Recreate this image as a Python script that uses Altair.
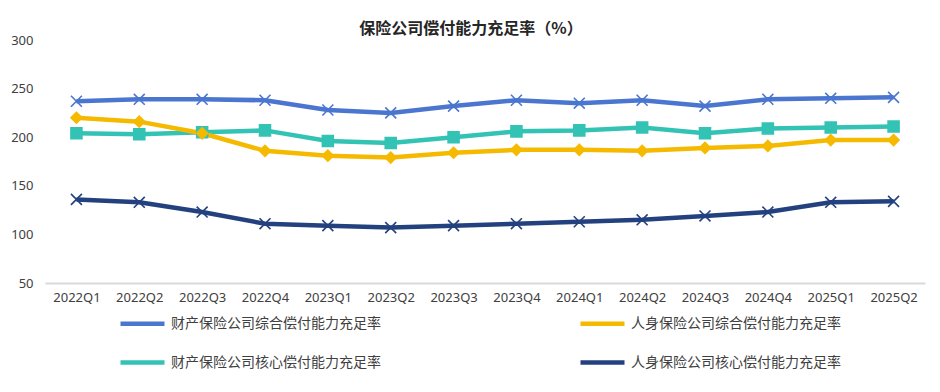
import altair as alt
import pandas as pd

quarters = ["2022Q1", "2022Q2", "2022Q3", "2022Q4", "2023Q1", "2023Q2", "2023Q3",
            "2023Q4", "2024Q1", "2024Q2", "2024Q3", "2024Q4", "2025Q1", "2025Q2"]

# legend order (laid out column by column)
series_names = ["财产保险公司综合偿付能力充足率", "财产保险公司核心偿付能力充足率",
                "人身保险公司综合偿付能力充足率", "人身保险公司核心偿付能力充足率"]
marker_keys = ["m1", "m2", "m3", "m4"]

prop_comp = [237, 239, 239, 238, 228, 225, 232, 238, 235, 238, 232, 239, 240, 241]
prop_core = [204, 203, 205, 207, 196, 194, 200, 206, 207, 210, 204, 209, 210, 211]
life_comp = [220, 216, 204, 186, 181, 179, 184, 187, 187, 186, 189, 191, 197, 197]
life_core = [136, 133, 123, 111, 109, 107, 109, 111, 113, 115, 119, 123, 133, 134]

colors = ["#4A76CF", "#33C3B5", "#F5BA00", "#24417F"]
X_PATH = "M-1,-1L1,1M-1,1L1,-1"
shapes = [X_PATH, "square", "diamond", X_PATH]

rows = []
for name, key, vals in zip(series_names, marker_keys, [prop_comp, prop_core, life_comp, life_core]):
    for q, v in zip(quarters, vals):
        rows.append({"季度": q, "系列": name, "标记": key, "值": v})
df = pd.DataFrame(rows)

font_num = "Noto Sans"
font_cjk = "Noto Sans CJK SC"

x_enc = alt.X("季度:N", sort=quarters,
              scale=alt.Scale(type="point", padding=0.5),
              axis=alt.Axis(title=None, labelAngle=0, ticks=False, domainColor="#D9D9D9",
                            domainWidth=2, labelPadding=8, labelFont=font_num,
                            labelFontSize=13, labelColor="#404040", grid=False))
y_enc = alt.Y("值:Q", scale=alt.Scale(domain=[50, 300], nice=False, zero=False),
              axis=alt.Axis(title=None, values=[50, 100, 150, 200, 250, 300], domain=False,
                            ticks=False, grid=False, labelPadding=12, labelFont=font_num,
                            labelFontSize=13, labelColor="#404040"))

lines = alt.Chart(df).mark_line(strokeWidth=4.5).encode(
    x=x_enc, y=y_enc,
    color=alt.Color("系列:N", scale=alt.Scale(domain=series_names, range=colors),
                    sort=series_names,
                    legend=alt.Legend(title=None, orient="none", legendX=73, legendY=259,
                                      columns=2, columnPadding=190, rowPadding=5,
                                      symbolType="stroke", symbolSize=1936,
                                      symbolStrokeWidth=4.5, labelFont=font_cjk,
                                      labelFontSize=14, labelColor="#404040",
                                      labelLimit=0, labelOffset=4, padding=0)),
)

points = alt.Chart(df).mark_point(filled=True, opacity=1, strokeWidth=1.6, size=120).encode(
    x=x_enc, y=y_enc,
    fill=alt.Fill("标记:N", scale=alt.Scale(domain=marker_keys, range=colors), legend=None),
    stroke=alt.Stroke("标记:N", scale=alt.Scale(domain=marker_keys, range=colors), legend=None),
    shape=alt.Shape("标记:N", scale=alt.Scale(domain=marker_keys, range=shapes), legend=None),
)

chart = alt.layer(lines, points).properties(
    width=880, height=243,
    autosize=alt.AutoSizeParams(type="none"),
    padding={"left": 37, "top": 32, "right": 7, "bottom": 101},
    title=alt.Title("保险公司偿付能力充足率（%）", font=font_cjk, fontSize=16, fontWeight="bold",
                    color="#262626", anchor="middle", dx=-14, offset=-3),
).configure(background="white").configure_view(strokeOpacity=0)

chart.save("out.html", embed_options={"renderer": "svg", "actions": False})
